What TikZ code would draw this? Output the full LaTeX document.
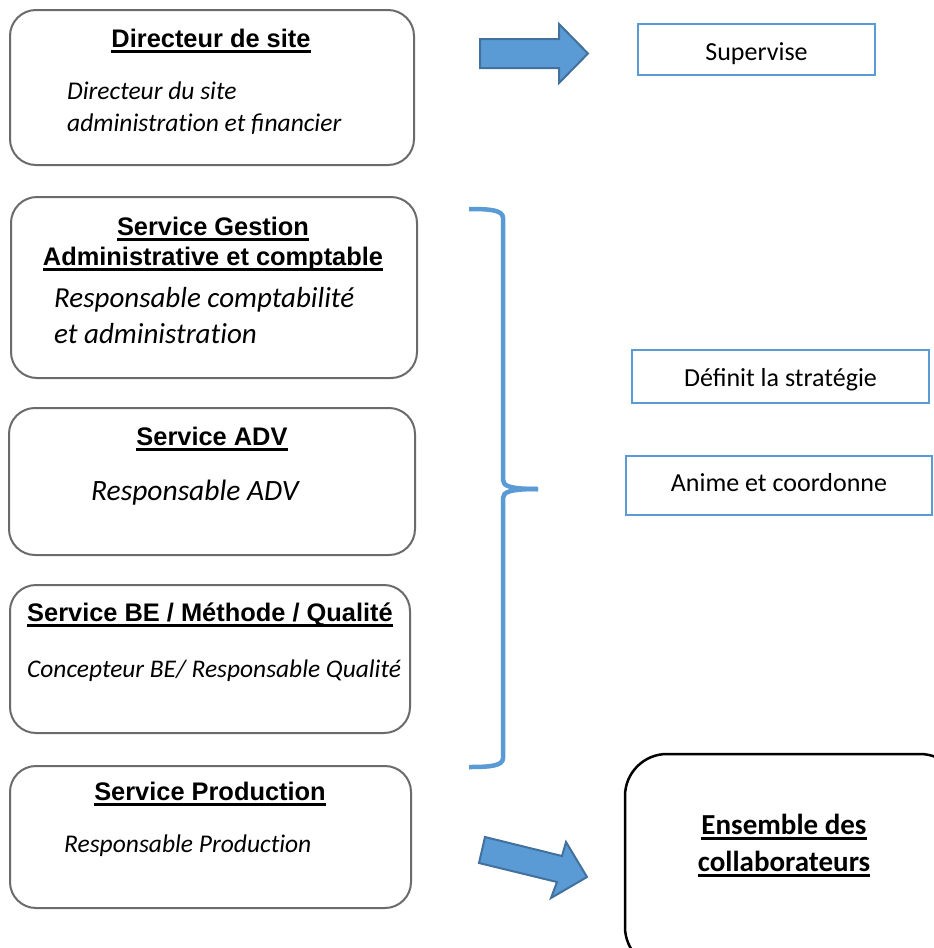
\documentclass[tikz,border=0pt]{standalone}
\usepackage{fontspec}
\setmainfont{Carlito}
\newfontfamily\arialf{Liberation Sans}
\newfontfamily\calf{Carlito}
\definecolor{bordgray}{HTML}{6B6B6B}
\definecolor{mblue}{HTML}{5B9BD5}
\definecolor{dblue}{HTML}{41719C}
\newcommand\myul[1]{\setbox0\hbox{#1}\rlap{\raisebox{-5.5pt}{\rule{\wd0}{2.6pt}}}\box0}
\tikzset{
  orgbox/.style={draw=bordgray, line width=2pt, rounded corners=26pt},
  bluebox/.style={draw=mblue, line width=2pt},
  ttl/.style={font=\arialf\bfseries\fontsize{25.4}{28}\selectfont, inner sep=0pt, anchor=base},
  itl/.style={font=\calf\itshape\fontsize{#1}{28}\selectfont, inner sep=0pt, anchor=base west},
  lbl/.style={font=\calf\fontsize{26}{30}\selectfont, inner sep=0pt, anchor=base},
  enstxt/.style={font=\calf\bfseries\fontsize{29}{32}\selectfont, inner sep=0pt, anchor=base},
  bigarrow/.style={fill=mblue, draw=dblue, line width=2pt, line join=miter},
  bracestyle/.style={draw=mblue, line width=4.5pt},
}
\begin{document}
\begin{tikzpicture}[x=1pt,y=-1pt]
\clip (0,0) rectangle (934,948);
\fill[white] (0,0) rectangle (934,948);

% left boxes
\draw[orgbox] (10,10) rectangle (414,165);
\node[ttl] (t1) at (211,47) {\myul{Directeur de site}};
\node[itl=25.5] (i1a) at (67,99) {Directeur du site};
\node[itl=25.5] (i1b) at (67,131) {administrat\kern0pt ion et financier};

\draw[orgbox] (11,197) rectangle (417,378);
\node[ttl] (t2a) at (213,235) {\myul{Service Gestion}};
\node[ttl] (t2b) at (213,265) {\myul{Administrative et comptable}};
\node[itl=29] (i2a) at (54,307) {Responsable comptabilité};
\node[itl=29] (i2b) at (54,343) {et administrat\kern0pt ion};

\draw[orgbox] (9,408) rectangle (415,555);
\node[ttl] (t3) at (212,445) {\myul{Service ADV}};
\node[itl=29.5] (i3) at (91,500) {Responsable ADV};

\draw[orgbox] (10,585) rectangle (410,733);
\node[ttl] (t4) at (210,621) {\myul{Service BE / Méthode / Qualité}};
\node[itl=25.4] (i4) at (27,677) {Concepteur BE/ Responsable Qualité};

\draw[orgbox] (10,766) rectangle (411,908);
\node[ttl] (t5) at (210,800) {\myul{Service Production}};
\node[itl=25.5] (i5) at (64,852) {Responsable Product\kern0pt ion};

% right blue boxes
\draw[bluebox] (638,24) rectangle (875,75);
\node[lbl] (s1) at (756.5,60) {Supervise};
\draw[bluebox] (632,350) rectangle (929,403);
\node[lbl] (s2) at (780.5,386) {Définit la stratégie};
\draw[bluebox] (626,456) rectangle (932,515);
\node[lbl] (s3) at (779,491) {Anime et coordonne};

% arrows
\draw[bigarrow] (480,39) -- (559,39) -- (559,24) -- (588,53.5) -- (559,83) -- (559,68) -- (480,68) -- cycle;
\draw[bigarrow] (485,837) -- (562,856) -- (566,842) -- (587,877) -- (551,898) -- (557,882) -- (479,863) -- cycle;

% brace
\draw[bracestyle] (469,209) .. controls (490,209) and (503,210) .. (503,218)
  -- (503,480) .. controls (503,486) and (510,489) .. (538,489);
\draw[bracestyle] (469,767) .. controls (490,767) and (503,766) .. (503,758)
  -- (503,498) .. controls (503,492) and (510,489) .. (538,489);

% ensemble box
\draw[line width=2.5pt, rounded corners=42pt] (625,754) rectangle (962,969);
\node[enstxt] (e1) at (784,834) {\myul{Ensemble des}};
\node[enstxt] (e2) at (784,871) {\myul{collaborateurs}};
\end{tikzpicture}
\end{document}
